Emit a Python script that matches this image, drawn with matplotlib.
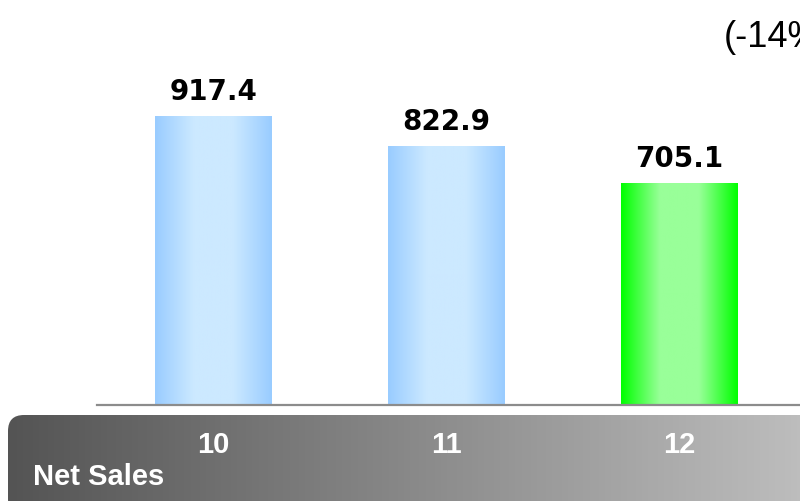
import numpy as np
import matplotlib
matplotlib.use("Agg")
import matplotlib.pyplot as plt
from matplotlib.patches import FancyBboxPatch
from matplotlib.colors import LinearSegmentedColormap

categories = ["10", "11", "12"]
values = [917.4, 822.9, 705.1]
value_labels = ["917.4", "822.9", "705.1"]
row_title = "Net Sales"
change_note = "(-14%)"

W, H = 800, 502
fig = plt.figure(figsize=(W / 100, H / 100), dpi=100)
fig.patch.set_facecolor("white")

# background layer in pixel coordinates (gray label band)
bg = fig.add_axes([0, 0, 1, 1])
bg.set_xlim(0, W)
bg.set_ylim(H, 0)
bg.axis("off")
band = FancyBboxPatch((8, 416), 810, 100, boxstyle="round,pad=0,rounding_size=16",
                      transform=bg.transData, facecolor="none", edgecolor="none")
bg.add_patch(band)
gray = LinearSegmentedColormap.from_list("g", ["#545454", "#888888", "#bdbdbd"])
im = bg.imshow(np.linspace(0, 1, 256)[None, :], cmap=gray, extent=[8, 800, 502, 416],
               aspect="auto", zorder=1)
im.set_clip_path(band)

# bar chart
ax = fig.add_axes([97 / W, (H - 406) / H, (W - 97) / W, 406 / H])
ax.patch.set_alpha(0)
x = np.arange(len(categories))
bars = ax.bar(x, values, width=0.5, color="none", edgecolor="none")

blue = LinearSegmentedColormap.from_list("b", ["#99ccff", "#cce9ff", "#cce9ff", "#99ccff"])
green = LinearSegmentedColormap.from_list("gr", ["#00ff00", "#99ff99", "#99ff99", "#00ff00"])
for i, b in enumerate(bars):
    cmap = green if i == len(bars) - 1 else blue
    x0, w, h = b.get_x(), b.get_width(), b.get_height()
    img = ax.imshow(np.linspace(0, 1, 256)[None, :], cmap=cmap,
                    extent=[x0, x0 + w, 0, h], aspect="auto", zorder=2)
    img.set_clip_path(b)
    ax.annotate(value_labels[i], (x[i], h), xytext=(0, 12), textcoords="offset points",
                ha="center", va="baseline", fontsize=20, fontweight="bold",
                family="DejaVu Sans", color="black")

ax.set_xlim(-0.5, 2.517)
ax.set_ylim(0, 1289)
for s in ["top", "left", "right"]:
    ax.spines[s].set_visible(False)
ax.spines["bottom"].set_color("#8c8c8c")
ax.spines["bottom"].set_linewidth(1.6)
ax.set_yticks([])
ax.set_xticks(x, categories)
ax.tick_params(axis="x", length=0, pad=18, labelsize=21, labelcolor="white")
for t in ax.get_xticklabels():
    t.set_fontweight("bold")
    t.set_family("Liberation Sans")

fig.text(33 / W, (H - 485) / H, row_title, color="white", fontsize=21,
         fontweight="bold", family="Liberation Sans", ha="left", va="baseline")
fig.text(724 / W, (H - 47) / H, change_note, color="black", fontsize=26,
         family="Liberation Sans", ha="left", va="baseline")

fig.savefig("out.png", dpi=100)
